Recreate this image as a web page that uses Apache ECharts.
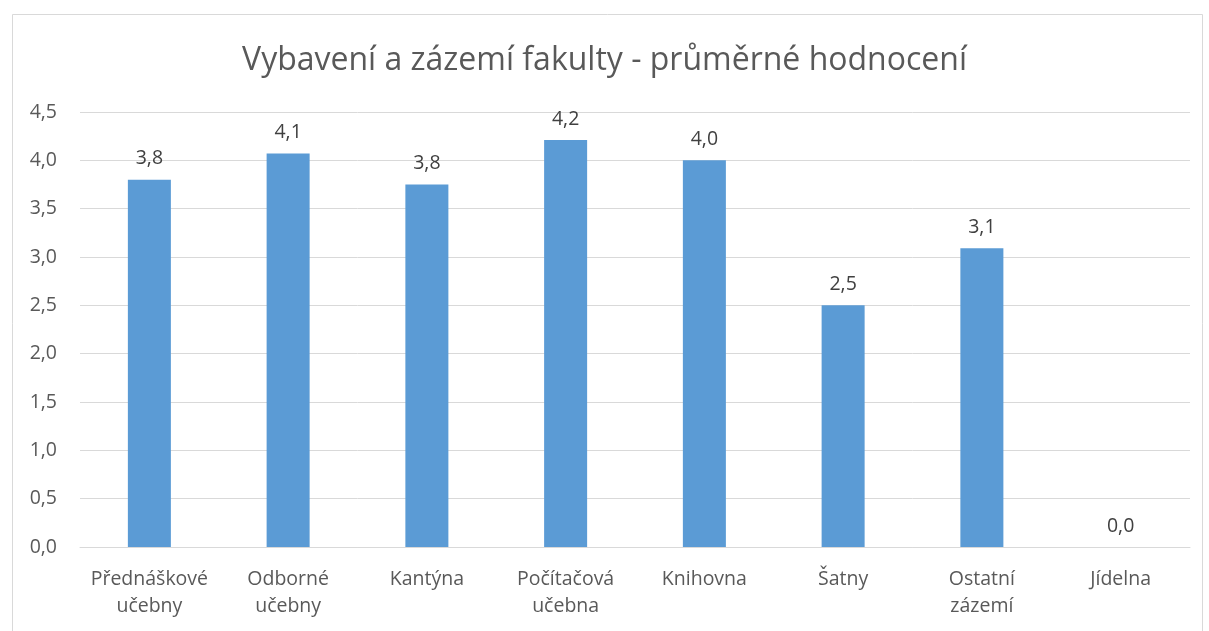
<!DOCTYPE html>
<html>
<head>
<meta charset="utf-8">
<script src="https://cdn.jsdelivr.net/npm/echarts@6/dist/echarts.min.js"></script>
<style>html,body{margin:0;padding:0;background:#fff;}#c{width:1209px;height:631px;}</style>
</head>
<body>
<div id="c"></div>
<script>
const categories = ["Přednáškové učebny", "Odborné učebny", "Kantýna", "Počítačová učebna", "Knihovna", "Šatny", "Ostatní zázemí", "Jídelna"];
const values = [3.8, 4.07, 3.75, 4.21, 4.0, 2.5, 3.09, 0.0];
const titleText = "Vybavení a zázemí fakulty - průměrné hodnocení";

const chart = echarts.init(document.getElementById('c'));
const font = "'Open Sans', 'Noto Sans', sans-serif";
const fmt = v => Number(v).toFixed(1).replace('.', ',');
chart.setOption({
  animation: false,
  backgroundColor: '#ffffff',
  graphic: [{
    type: 'rect', left: 10, top: 12, z: -1,
    shape: { width: 1190, height: 640 },
    style: { fill: 'none', stroke: '#d9d9d9', lineWidth: 1 }
  }],
  title: {
    text: titleText, left: 'center', top: 40,
    textStyle: { fontFamily: font, fontSize: 32, fontWeight: 'normal', color: '#595959' }
  },
  grid: { left: 80, right: 19, top: 112, bottom: 84, containLabel: false },
  xAxis: {
    type: 'category', data: categories,
    axisLine: { lineStyle: { color: '#d9d9d9', width: 1 } },
    axisTick: { show: false },
    axisLabel: {
      interval: 0, margin: 19, lineHeight: 27,
      fontFamily: font, fontSize: 19.5, color: '#595959',
      formatter: v => v.replace(' ', '\n')
    }
  },
  yAxis: {
    type: 'value', min: 0, max: 4.5, interval: 0.5,
    axisLine: { show: false }, axisTick: { show: false },
    splitLine: { lineStyle: { color: '#d9d9d9', width: 1 } },
    axisLabel: { fontFamily: font, fontSize: 19.5, color: '#595959', margin: 23, formatter: fmt }
  },
  series: [{
    type: 'bar', data: values, barWidth: '31%',
    itemStyle: { color: '#5b9bd5' },
    label: {
      show: true, position: 'top', distance: 11,
      fontFamily: font, fontSize: 19.5, color: '#404040',
      formatter: p => fmt(p.value)
    }
  }]
});
</script>
</body>
</html>
